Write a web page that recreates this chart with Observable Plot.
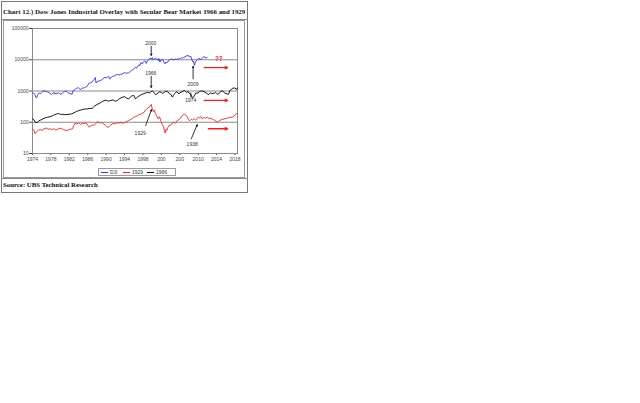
<!DOCTYPE html>
<html>
<head>
<meta charset="utf-8">
<script src="https://cdn.jsdelivr.net/npm/d3@7"></script>
<script src="https://cdn.jsdelivr.net/npm/@observablehq/plot@0.6"></script>
<style>
  html, body { margin: 0; padding: 0; background: #fff; }
  #page { position: relative; width: 640px; height: 403px; background: #fff; }
  #wrap { position: absolute; left: 1px; top: 1px; width: 247px; height: 192px; border: 1px solid #777; box-sizing: border-box; }
  #title { position: absolute; left: 3px; top: 7px; font-family: "Liberation Serif", "Times New Roman", serif; font-weight: bold; font-size: 6.9px; line-height: 10px; white-space: nowrap; color: #111; }
  #chartbox { position: absolute; left: 3px; top: 20px; width: 242px; height: 158px; border: 1px solid #999; box-sizing: border-box; }
  #chartbox svg { position: absolute; left: 0; top: 0; }
  #titleLine { position: absolute; left: 1px; top: 19px; width: 247px; height: 0; border-top: 1px solid #888; }
  #sourceLine { position: absolute; left: 1px; top: 178px; width: 247px; height: 0; border-top: 1px solid #888; }
  #source { position: absolute; left: 3px; top: 180px; font-family: "Liberation Serif", "Times New Roman", serif; font-weight: bold; font-size: 6.8px; line-height: 10px; white-space: nowrap; color: #111; }
  #legend { position: absolute; left: 98px; top: 168px; width: 78px; height: 8px; border: 1px solid #999; box-sizing: border-box; background: #fff; font-family: "Liberation Sans", Arial, sans-serif; font-size: 5px; color: #333; }
  #legend .item { position: absolute; top: 0px; line-height: 6px; white-space: nowrap; }
  #legend .sw { display: inline-block; width: 7px; height: 0; border-top: 1px solid; vertical-align: middle; margin-right: 2px; }
</style>
</head>
<body>
<div id="page">
  <div id="wrap"></div>
  <div id="title">Chart 12.) Dow Jones Industrial Overlay with Secular Bear Market 1966 and 1929</div>
  <div id="titleLine"></div>
  <div id="chartbox"></div>
  <div id="legend"></div>
  <div id="sourceLine"></div>
  <div id="source">Source: UBS Technical Research</div>
</div>
<script>
// ---- data (decimal year, index level) ----
const dji = [
 [1974.0,880],[1974.2,850],[1974.4,820],[1974.55,760],[1974.75,620],[1974.9,600],[1975.1,720],[1975.3,830],[1975.5,860],[1975.7,800],
 [1976.0,900],[1976.2,990],[1976.5,1000],[1976.8,960],[1977.0,990],[1977.3,920],[1977.6,880],[1977.9,820],[1978.1,770],[1978.4,840],
 [1978.7,900],[1978.85,800],[1979.1,840],[1979.4,840],[1979.7,880],[1979.9,820],[1980.2,780],[1980.5,870],[1980.8,940],[1981.0,960],
 [1981.3,1000],[1981.6,930],[1981.8,850],[1982.1,840],[1982.4,810],[1982.6,780],[1982.8,1000],[1983.0,1050],[1983.3,1130],[1983.5,1220],
 [1983.8,1250],[1984.0,1260],[1984.3,1140],[1984.5,1110],[1984.7,1220],[1985.0,1250],[1985.3,1270],[1985.6,1340],[1985.9,1430],[1986.1,1600],
 [1986.3,1800],[1986.6,1800],[1986.9,1900],[1987.1,2150],[1987.4,2300],[1987.65,2700],[1987.8,1800],[1988.0,1950],[1988.4,2100],[1988.8,2150],
 [1989.1,2300],[1989.5,2600],[1989.75,2750],[1990.0,2600],[1990.3,2800],[1990.55,2950],[1990.8,2400],[1991.1,2750],[1991.4,2950],[1991.8,3000],
 [1992.0,3250],[1992.5,3350],[1992.8,3250],[1993.2,3450],[1993.6,3550],[1993.9,3750],[1994.1,3950],[1994.3,3650],[1994.6,3800],[1994.9,3830],
 [1995.2,4150],[1995.5,4550],[1995.8,4750],[1996.0,5200],[1996.4,5650],[1996.6,5400],[1996.9,6400],[1997.2,6900],[1997.3,6400],[1997.6,8200],
 [1997.85,7400],[1998.1,8500],[1998.35,9100],[1998.6,8800],[1998.7,7600],[1998.9,9000],[1999.2,9800],[1999.4,10900],[1999.6,11200],[1999.8,10300],
 [2000.04,11700],[2000.2,10000],[2000.4,10500],[2000.7,11100],[2000.9,10500],[2001.1,10600],[2001.3,9500],[2001.45,11000],[2001.7,8400],[2001.9,9900],
 [2002.1,10000],[2002.3,10400],[2002.55,8300],[2002.8,7400],[2003.0,8500],[2003.2,7900],[2003.4,8900],[2003.7,9400],[2003.95,10400],[2004.2,10500],
 [2004.5,10200],[2004.8,9800],[2005.0,10700],[2005.3,10300],[2005.6,10600],[2005.9,10800],[2006.2,11100],[2006.4,11600],[2006.6,11000],[2006.9,12300],
 [2007.2,12200],[2007.45,13600],[2007.6,12900],[2007.8,14100],[2008.0,12700],[2008.2,12200],[2008.4,12900],[2008.55,11300],[2008.75,9000],[2008.9,8500],
 [2009.0,9000],[2009.18,6600],[2009.4,8300],[2009.6,9200],[2009.9,10400],[2010.3,11000],[2010.5,9800],[2010.8,11100],[2011.0,11700],[2011.3,12600],
 [2011.5,12100],[2011.65,11100],[2011.8,11400],[2011.95,12100]
];
const bear1966 = [
 [1974.0,130],[1974.3,120],[1974.6,100],[1975.0,96],[1975.4,112],[1975.8,118],[1976.3,130],[1976.8,140],[1977.3,145],[1977.8,150],
 [1978.3,160],[1978.8,175],[1979.3,185],[1979.7,190],[1980.1,178],[1980.6,180],[1981.0,175],[1981.5,178],[1982.0,180],[1982.5,185],
 [1983.0,200],[1983.5,220],[1984.0,235],[1984.5,245],[1985.0,260],[1985.5,265],[1986.0,270],[1986.5,275],[1987.0,280],[1987.5,330],
 [1988.0,370],[1988.5,400],[1989.0,440],[1989.5,490],[1990.0,510],[1990.5,470],[1991.0,500],[1991.5,520],[1992.0,470],[1992.5,500],
 [1993.0,580],[1993.5,630],[1994.0,660],[1994.4,600],[1994.8,560],[1995.2,620],[1995.6,700],[1996.0,720],[1996.4,560],[1996.8,640],
 [1997.2,700],[1997.6,760],[1998.0,800],[1998.5,860],[1999.0,900],[1999.4,870],[1999.8,960],[2000.1,990],[2000.4,900],[2000.75,760],
 [2001.0,800],[2001.4,900],[2001.7,940],[2002.0,900],[2002.2,840],[2002.6,890],[2002.9,980],[2003.4,950],[2003.8,810],[2004.0,800],
 [2004.4,640],[2004.7,760],[2005.0,840],[2005.3,950],[2005.85,810],[2006.0,880],[2006.5,940],[2006.95,1020],[2007.05,1050],[2007.5,900],
 [2007.8,970],[2008.0,860],[2008.3,820],[2008.6,670],[2008.76,590],[2009.0,640],[2009.5,860],[2010.0,860],[2010.3,980],[2010.7,990],
 [2011.0,1000],[2011.5,900],[2012.0,830],[2012.2,760],[2012.7,880],[2012.9,810],[2013.4,850],[2013.8,890],[2014.0,840],[2014.3,780],
 [2014.9,960],[2015.3,1010],[2015.8,860],[2016.3,800],[2016.6,790],[2016.9,1040],[2017.3,1150],[2017.5,1220],[2018.0,1260],[2018.2,1150],
 [2018.4,1120],[2018.55,1250]
];
const bear1929 = [
 [1974.0,62],[1974.3,55],[1974.6,43],[1974.9,50],[1975.3,56],[1975.7,58],[1976.1,55],[1976.5,62],[1977.0,65],[1977.4,60],
 [1977.8,62],[1978.2,58],[1978.6,62],[1979.0,57],[1979.4,59],[1979.8,63],[1980.3,64],[1980.7,58],[1981.1,56],[1981.5,54],
 [1981.9,58],[1982.3,60],[1982.7,62],[1983.0,80],[1983.2,92],[1983.6,88],[1984.0,94],[1984.4,86],[1984.8,92],[1985.2,90],
 [1985.6,98],[1986.0,80],[1986.3,70],[1986.7,76],[1987.1,80],[1987.5,82],[1987.9,96],[1988.2,106],[1988.6,95],[1989.0,98],
 [1989.5,88],[1989.9,80],[1990.3,68],[1990.6,72],[1991.0,82],[1991.5,92],[1991.9,88],[1992.3,96],[1992.8,94],[1993.2,100],
 [1993.6,92],[1994.0,98],[1994.5,105],[1994.9,114],[1995.3,122],[1995.7,130],[1996.0,146],[1996.4,150],[1996.8,162],[1997.1,174],
 [1997.5,180],[1997.9,195],[1998.2,205],[1998.5,240],[1998.8,270],[1999.1,285],[1999.4,310],[1999.65,350],[1999.8,375],[1999.95,300],
 [2000.1,240],[2000.3,220],[2000.5,250],[2000.7,190],[2001.0,160],[2001.3,130],[2001.6,150],[2001.9,110],[2002.2,85],[2002.5,72],
 [2002.7,50],[2002.85,45],[2003.0,60],[2003.2,55],[2003.4,68],[2003.7,78],[2004.0,80],[2004.4,95],[2004.7,100],[2005.0,92],
 [2005.4,110],[2005.8,122],[2006.2,135],[2006.5,160],[2006.8,175],[2007.0,185],[2007.3,170],[2007.6,150],[2007.9,120],[2008.2,112],
 [2008.5,125],[2008.8,118],[2009.1,130],[2009.4,118],[2009.7,125],[2010.0,145],[2010.3,140],[2010.6,152],[2010.9,128],[2011.2,140],
 [2011.6,136],[2012.0,142],[2012.4,130],[2012.8,135],[2013.1,124],[2013.5,118],[2013.9,108],[2014.2,100],[2014.6,112],[2015.0,120],
 [2015.4,124],[2015.8,130],[2016.2,134],[2016.6,140],[2017.0,142],[2017.4,146],[2017.8,158],[2018.1,172],[2018.4,192],[2018.55,190]
];
const xTicks = [1974, 1978, 1982, 1986, 1990, 1994, 1998, 2002, 2006, 2010, 2014, 2018];
const xTickLabels = ["1974", "1978", "1982", "1986", "1990", "1994", "1998", "200", "200", "2010", "2014", "2018"];
const yTicks = [10, 100, 1000, 10000, 100000];
const seriesNames = ["DJI", "1929", "1966"];
const seriesColors = ["#3030ff", "#ff2020", "#000000"];

// annotation labels (data coordinates)
const noteText = ["2000", "1966", "1929", "2009", "1974", "1938"];
const noteX = [1999.7, 1999.7, 1997.4, 2008.9, 2008.4, 2008.7];
const noteY = [33600, 3750, 43, 1665, 511, 19.4];
const arrowX1 = [1999.8, 1999.8, 1998.6, 2008.9, 2008.5];
const arrowY1 = [26900, 2940, 79, 2440, 29.6];
const arrowX2 = [1999.8, 1999.8, 1999.85, 2008.9, 2009.8];
const arrowY2 = [13800, 1300, 252, 6140, 83];
const tick1974 = [[2008.4, 650], [2008.4, 860]];
const redArrowX1 = [2011.3, 2011.3, 2012.2];
const redArrowX2 = [2016.4, 2016.4, 2016.4];
const redArrowY = [5580, 500, 62];
const questionText = "??";
const questionX = 2014.5, questionY = 10700;

const arrows = arrowX1.map((x, i) => ({x1: x, y1: arrowY1[i], x2: arrowX2[i], y2: arrowY2[i]}));
const redArrows = redArrowX1.map((x, i) => ({x1: x, x2: redArrowX2[i], y: redArrowY[i]}));
const notes = noteText.map((t, i) => ({t, x: noteX[i], y: noteY[i]}));

const chart = Plot.plot({
  width: 240, height: 156,
  marginLeft: 28, marginRight: 7, marginTop: 7, marginBottom: 24,
  style: {fontFamily: "'Liberation Sans', Arial, sans-serif", fontSize: "5px", color: "#444", background: "transparent", overflow: "visible"},
  x: {domain: [1974, 2018.55], ticks: xTicks, tickFormat: d => xTickLabels[xTicks.indexOf(d)], tickSize: 2, tickPadding: 2, label: null},
  y: {type: "log", domain: [10, 100000], ticks: yTicks, tickFormat: d => String(d), tickSize: 3, tickPadding: 1, label: null},
  marks: [
    Plot.ruleY(yTicks, {stroke: "#8a8a8a", strokeWidth: 1}),
    Plot.frame({stroke: "#8a8a8a"}),
    Plot.line(bear1929, {x: d => d[0], y: d => d[1], stroke: seriesColors[1], strokeWidth: 0.9}),
    Plot.line(bear1966, {x: d => d[0], y: d => d[1], stroke: seriesColors[2], strokeWidth: 0.9}),
    Plot.line(dji, {x: d => d[0], y: d => d[1], stroke: seriesColors[0], strokeWidth: 0.9}),
    Plot.arrow(arrows, {x1: "x1", y1: "y1", x2: "x2", y2: "y2", stroke: "#000", strokeWidth: 0.8, headLength: 3, headAngle: 50}),
    Plot.line(tick1974, {x: d => d[0], y: d => d[1], stroke: "#000", strokeWidth: 0.8}),
    Plot.arrow(redArrows, {x1: "x1", y1: "y", x2: "x2", y2: "y", stroke: "#ff1a1a", strokeWidth: 1.3, headLength: 3, headAngle: 50}),
    Plot.text(notes, {x: "x", y: "y", text: "t", fill: "#333", fontSize: 5}),
    Plot.text([questionText], {x: () => questionX, y: () => questionY, text: d => d, fill: "#ff1a1a", fontSize: 6.5, fontWeight: "bold"})
  ]
});
document.getElementById("chartbox").appendChild(chart);

// legend
const legend = document.getElementById("legend");
const legendLeft = [2, 24, 48];
seriesNames.forEach((name, i) => {
  const it = document.createElement("span");
  it.className = "item";
  it.style.left = legendLeft[i] + "px";
  it.innerHTML = `<span class="sw" style="border-color:${seriesColors[i]}"></span>${name}`;
  legend.appendChild(it);
});
</script>
</body>
</html>
